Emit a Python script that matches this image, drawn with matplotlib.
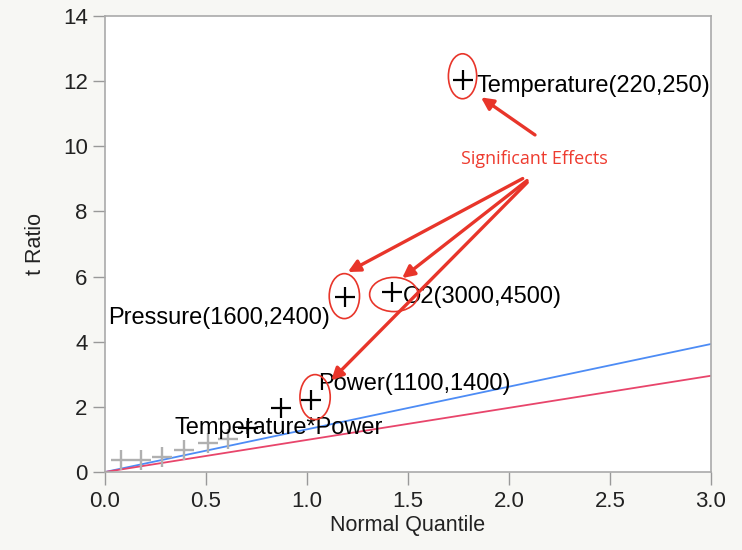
import matplotlib.pyplot as plt
from matplotlib.patches import Ellipse

plt.rcParams['font.family'] = ['Liberation Sans', 'DejaVu Sans']

# Efectos (cuantil normal, t ratio)
sig_x = [1.77, 1.19, 1.42, 1.02]
sig_y = [12.05, 5.37, 5.52, 2.21]
sig_labels = ['Temperature(220,250)', 'Pressure(1600,2400)', 'O2(3000,4500)', 'Power(1100,1400)']

other_x = [0.87, 0.71]
other_y = [1.96, 1.35]
other_labels = ['', 'Temperature*Power']

gray_x = [0.08, 0.18, 0.28, 0.39, 0.51, 0.61]
gray_y = [0.37, 0.37, 0.47, 0.67, 0.88, 1.0]

blue_slope = 1.31
red_slope = 0.985

fig = plt.figure(figsize=(7.42, 5.5), dpi=100, facecolor='#f7f7f4')
ax = fig.add_axes([105 / 742, 78 / 550, 606 / 742, 456 / 550])
ax.set_facecolor('white')

# Lineas de referencia
ax.plot([0, 3], [0, 3 * blue_slope], color='#4d8cf5', lw=1.3, zorder=2)
ax.plot([0, 3], [0, 3 * red_slope], color='#e8456b', lw=1.3, zorder=2)

ax.plot(gray_x, gray_y, '+', color='#b0b0b0', ms=14, mew=1.7, zorder=3)
ax.plot(other_x, other_y, '+', color='black', ms=14, mew=1.6, zorder=3)
ax.plot(sig_x, sig_y, '+', color='black', ms=14, mew=1.6, zorder=3)

# Etiquetas
fs = 17
ax.text(1.84, 11.84, sig_labels[0], fontsize=fs, va='center', ha='left')
ax.text(1.114, 4.72, sig_labels[1], fontsize=fs, va='center', ha='right')
ax.text(1.475, 5.37, sig_labels[2], fontsize=fs, va='center', ha='left')
ax.text(1.055, 2.7, sig_labels[3], fontsize=fs, va='center', ha='left')
ax.text(0.346, 1.35, other_labels[1], fontsize=fs, va='center', ha='left')

# Elipses rojas alrededor de los efectos significativos
ell = [(1.77, 12.15, 0.14, 1.38), (1.185, 5.4, 0.15, 1.38),
       (1.43, 5.45, 0.24, 1.05), (1.04, 2.3, 0.15, 1.38)]
for cx, cy, w, h in ell:
    ax.add_patch(Ellipse((cx, cy), w, h, fill=False, edgecolor='#e8352a', lw=1.2, zorder=4))

ax.text(2.125, 9.6, 'Significant Effects', color='#ee3b2f', fontsize=13,
        family=['Open Sans', 'DejaVu Sans'], ha='center', va='center')

arrow = dict(arrowstyle='-|>', color='#e8352a', lw=2.4, mutation_scale=18)
ax.annotate('', xy=(1.85, 11.55), xytext=(2.14, 10.3), arrowprops=arrow)
ax.annotate('', xy=(1.19, 6.1), xytext=(2.08, 9.05), arrowprops=arrow)
ax.annotate('', xy=(1.46, 5.9), xytext=(2.1, 9.0), arrowprops=arrow)
ax.annotate('', xy=(1.11, 2.75), xytext=(2.1, 8.95), arrowprops=arrow)

ax.set_xlim(0, 3)
ax.set_ylim(0, 14)
ax.set_xticks([0, 0.5, 1.0, 1.5, 2.0, 2.5, 3.0])
ax.set_xticklabels(['0.0', '0.5', '1.0', '1.5', '2.0', '2.5', '3.0'])
ax.set_yticks(range(0, 15, 2))
ax.tick_params(colors='#999999', labelcolor='#222222', labelsize=16, length=9, width=1)
ax.tick_params(axis='x', pad=5)
for s in ax.spines.values():
    s.set_color('#aaaaaa')
    s.set_linewidth(1.2)

ax.set_xlabel('Normal Quantile', fontsize=15.5, color='#222222', labelpad=2)
ax.set_ylabel('t Ratio', fontsize=15.5, color='#222222', labelpad=12)

fig.savefig('out.png', dpi=100, facecolor=fig.get_facecolor())
